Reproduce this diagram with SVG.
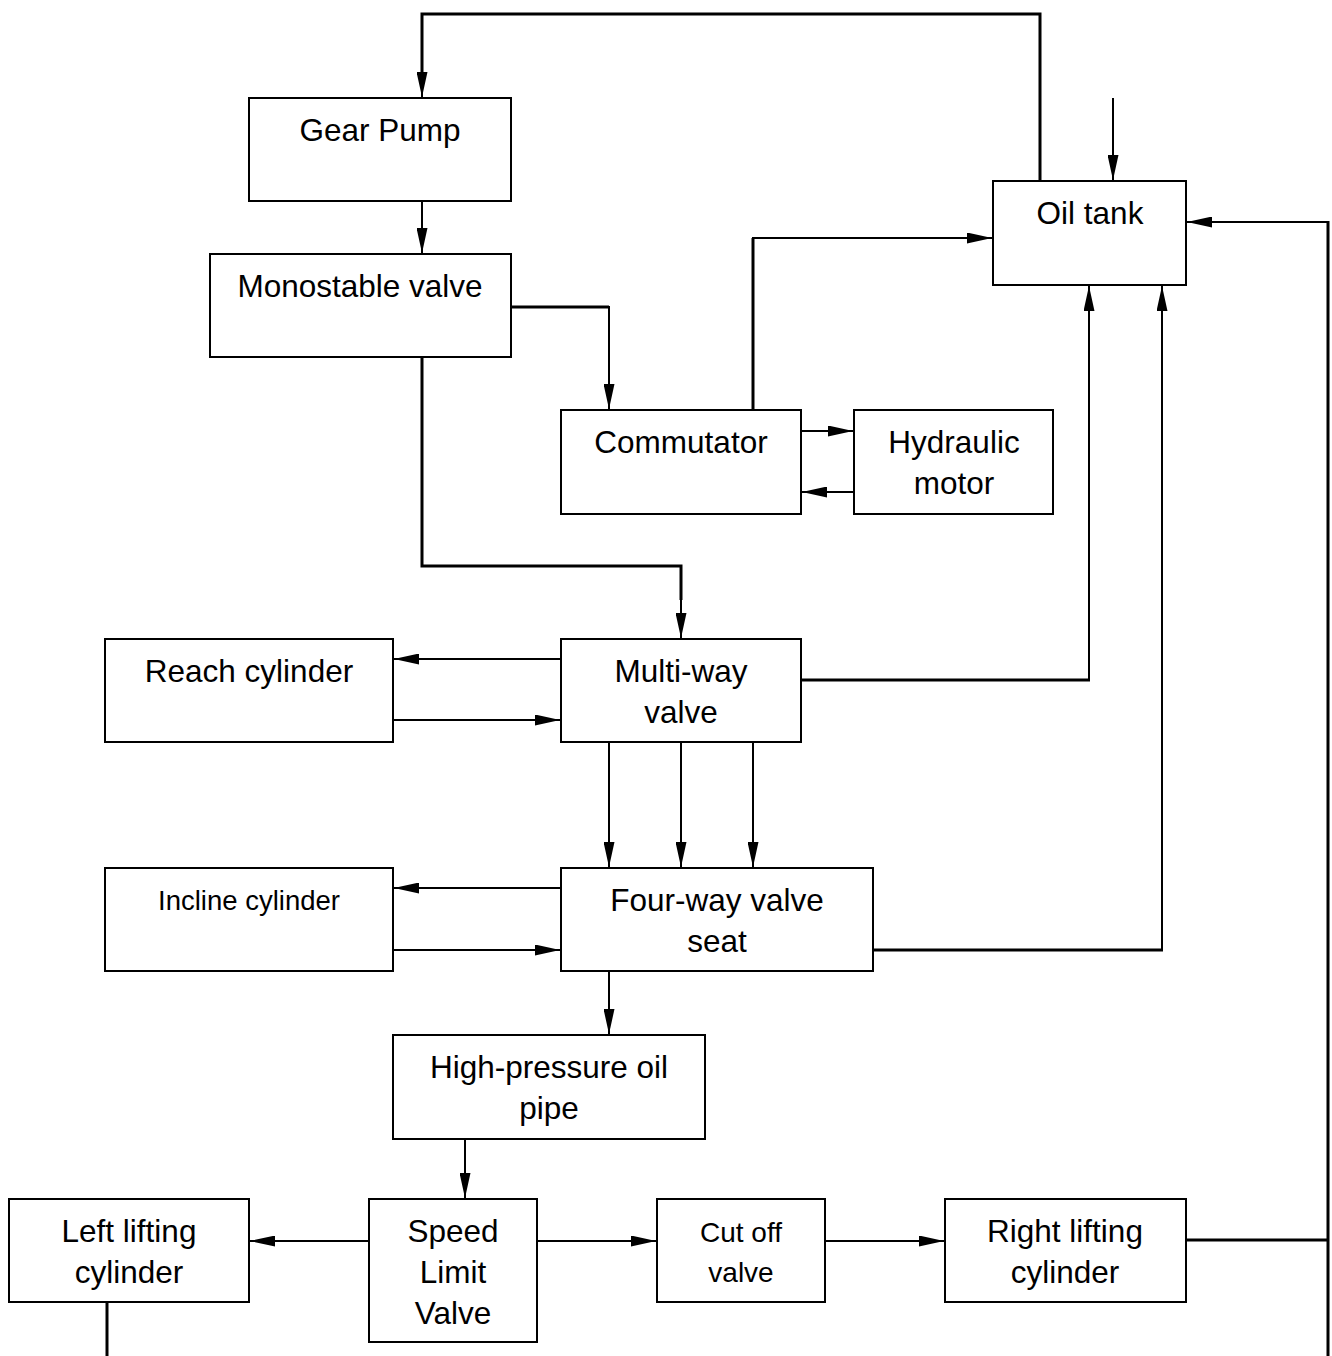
<svg xmlns="http://www.w3.org/2000/svg" width="1332" height="1356" viewBox="0 0 1332 1356">
<style>
.box{fill:#fff;stroke:#000;stroke-width:2}
.t{font-family:"Liberation Sans",Arial,sans-serif;font-size:31.5px;text-anchor:middle;fill:#000}
.s{font-size:27.5px}
.c{font-size:28px}
.ln{fill:none;stroke:#000;stroke-width:2}
.th{fill:none;stroke:#000;stroke-width:3}
</style>
<defs>
<marker id="a" markerUnits="userSpaceOnUse" markerWidth="26" markerHeight="11" refX="25" refY="5.5" orient="auto" viewBox="0 0 26 11">
<path d="M0,0 L25,5.5 L0,11 z" fill="#000"/>
</marker>
</defs>
<rect width="1332" height="1356" fill="#fff"/>
<g id="connectors">
<polyline class="th" points="1040,181 1040,14 422,14 422,72"/>
<line class="ln" x1="422" y1="70" x2="422" y2="97" marker-end="url(#a)"/>
<line class="ln" x1="1113" y1="98" x2="1113" y2="180" marker-end="url(#a)"/>
<line class="ln" x1="422" y1="201" x2="422" y2="253" marker-end="url(#a)"/>
<line class="th" x1="511" y1="307" x2="609" y2="307"/>
<line class="ln" x1="609" y1="306" x2="609" y2="409" marker-end="url(#a)"/>
<line class="th" x1="753" y1="410" x2="753" y2="238"/>
<line class="ln" x1="752" y1="238" x2="992" y2="238" marker-end="url(#a)"/>
<line class="ln" x1="801" y1="431" x2="853" y2="431" marker-end="url(#a)"/>
<line class="ln" x1="854" y1="492" x2="802" y2="492" marker-end="url(#a)"/>
<polyline class="th" points="422,357 422,566 681,566 681,600"/>
<line class="ln" x1="681" y1="598" x2="681" y2="638" marker-end="url(#a)"/>
<line class="ln" x1="561" y1="659" x2="394" y2="659" marker-end="url(#a)"/>
<line class="ln" x1="393" y1="720" x2="560" y2="720" marker-end="url(#a)"/>
<line class="th" x1="801" y1="680" x2="1090" y2="680"/>
<line class="ln" x1="1089" y1="680" x2="1089" y2="286" marker-end="url(#a)"/>
<line class="ln" x1="609" y1="742" x2="609" y2="867" marker-end="url(#a)"/>
<line class="ln" x1="681" y1="742" x2="681" y2="867" marker-end="url(#a)"/>
<line class="ln" x1="753" y1="742" x2="753" y2="867" marker-end="url(#a)"/>
<line class="ln" x1="561" y1="888" x2="394" y2="888" marker-end="url(#a)"/>
<line class="ln" x1="393" y1="950" x2="560" y2="950" marker-end="url(#a)"/>
<line class="th" x1="873" y1="950" x2="1163" y2="950"/>
<line class="ln" x1="1162" y1="950" x2="1162" y2="286" marker-end="url(#a)"/>
<line class="ln" x1="609" y1="971" x2="609" y2="1034" marker-end="url(#a)"/>
<line class="ln" x1="465" y1="1139" x2="465" y2="1198" marker-end="url(#a)"/>
<line class="ln" x1="369" y1="1241" x2="250" y2="1241" marker-end="url(#a)"/>
<line class="ln" x1="537" y1="1241" x2="656" y2="1241" marker-end="url(#a)"/>
<line class="ln" x1="825" y1="1241" x2="944" y2="1241" marker-end="url(#a)"/>
<line class="th" x1="1186" y1="1240" x2="1328" y2="1240"/>
<line class="th" x1="1328" y1="221" x2="1328" y2="1356"/>
<line class="ln" x1="1328" y1="222" x2="1187" y2="222" marker-end="url(#a)"/>
<line class="th" x1="107" y1="1302" x2="107" y2="1356"/>
</g>
<g id="gear-pump"><rect class="box" x="249" y="98" width="262" height="103"/><text class="t" x="380" y="141">Gear Pump</text></g>
<g id="monostable-valve"><rect class="box" x="210" y="254" width="301" height="103"/><text class="t" x="360" y="297">Monostable valve</text></g>
<g id="commutator"><rect class="box" x="561" y="410" width="240" height="104"/><text class="t" x="681" y="453">Commutator</text></g>
<g id="hydraulic-motor"><rect class="box" x="854" y="410" width="199" height="104"/><text class="t" x="954" y="453">Hydraulic</text><text class="t" x="954" y="494">motor</text></g>
<g id="oil-tank"><rect class="box" x="993" y="181" width="193" height="104"/><text class="t" x="1090" y="224">Oil tank</text></g>
<g id="reach-cylinder"><rect class="box" x="105" y="639" width="288" height="103"/><text class="t" x="249" y="682">Reach cylinder</text></g>
<g id="multi-way-valve"><rect class="box" x="561" y="639" width="240" height="103"/><text class="t" x="681" y="682">Multi-way</text><text class="t" x="681" y="723">valve</text></g>
<g id="incline-cylinder"><rect class="box" x="105" y="868" width="288" height="103"/><text class="t s" x="249" y="910">Incline cylinder</text></g>
<g id="four-way-valve-seat"><rect class="box" x="561" y="868" width="312" height="103"/><text class="t" x="717" y="911">Four-way valve</text><text class="t" x="717" y="952">seat</text></g>
<g id="high-pressure-oil-pipe"><rect class="box" x="393" y="1035" width="312" height="104"/><text class="t" x="549" y="1078">High-pressure oil</text><text class="t" x="549" y="1119">pipe</text></g>
<g id="left-lifting-cylinder"><rect class="box" x="9" y="1199" width="240" height="103"/><text class="t" x="129" y="1242">Left lifting</text><text class="t" x="129" y="1283">cylinder</text></g>
<g id="speed-limit-valve"><rect class="box" x="369" y="1199" width="168" height="143"/><text class="t" x="453" y="1242">Speed</text><text class="t" x="453" y="1283">Limit</text><text class="t" x="453" y="1324">Valve</text></g>
<g id="cut-off-valve"><rect class="box" x="657" y="1199" width="168" height="103"/><text class="t c" x="741" y="1242">Cut off</text><text class="t c" x="741" y="1282">valve</text></g>
<g id="right-lifting-cylinder"><rect class="box" x="945" y="1199" width="241" height="103"/><text class="t" x="1065" y="1242">Right lifting</text><text class="t" x="1065" y="1283">cylinder</text></g>
</svg>
